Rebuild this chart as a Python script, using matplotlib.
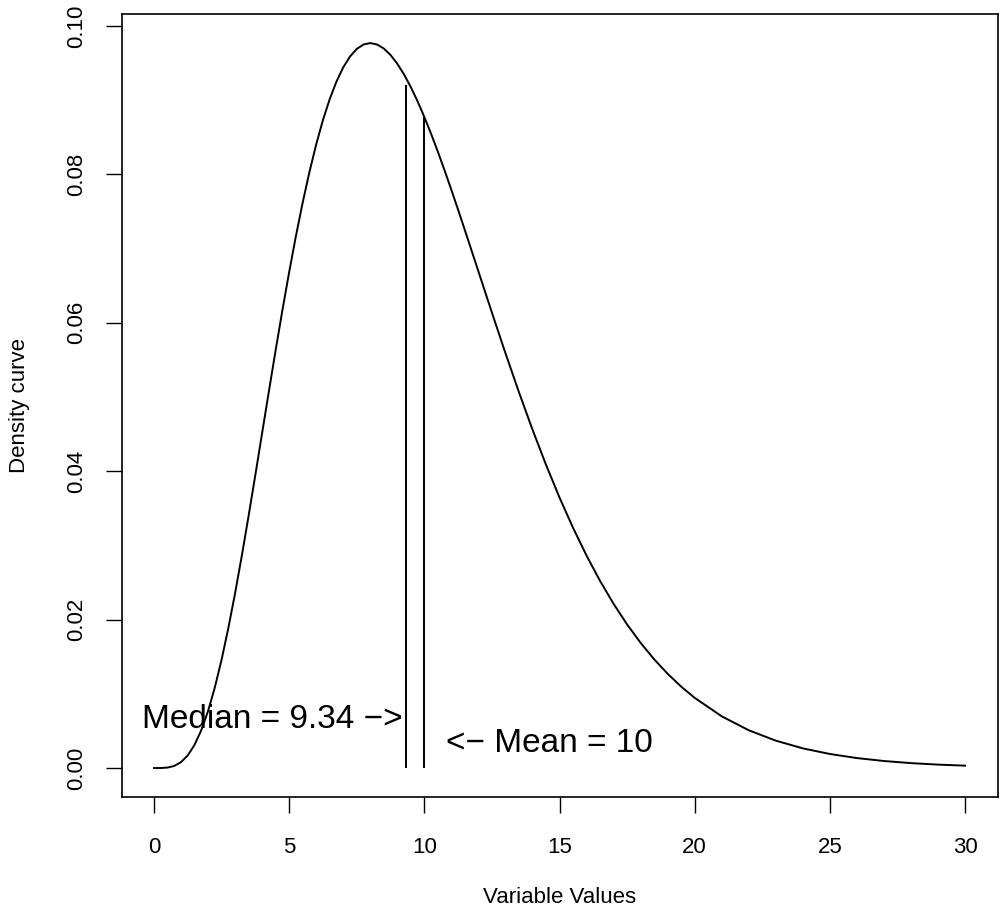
import matplotlib
matplotlib.use("Agg")
import matplotlib.pyplot as plt

plt.rcParams['font.family'] = ['Liberation Sans', 'DejaVu Sans']

# Density curve values
x_vals = [0, 0.25, 0.5, 0.75, 1, 1.25, 1.5, 1.75, 2, 2.25, 2.5, 2.75, 3, 3.25,
          3.5, 3.75, 4, 4.25, 4.5, 4.75, 5, 5.25, 5.5, 5.75, 6, 6.25, 6.5, 6.75,
          7, 7.25, 7.5, 7.75, 8, 8.25, 8.5, 8.75, 9, 9.25, 9.5, 9.75, 10, 10.25,
          10.5, 10.75, 11, 11.25, 11.5, 12, 12.5, 13, 13.5, 14, 14.5, 15, 15.5,
          16, 16.5, 17, 17.5, 18, 18.5, 19, 19.5, 20, 21, 22, 23, 24, 25, 26,
          27, 28, 29, 30]
density = [0.0, 0.0000045, 0.0000634, 0.000283, 0.000790, 0.001702, 0.003114,
           0.005091, 0.007664, 0.010834, 0.014572, 0.018828, 0.023533, 0.028606,
           0.033954, 0.039486, 0.045112, 0.050734, 0.056276, 0.061654, 0.066801,
           0.071656, 0.076169, 0.080298, 0.084016, 0.087296, 0.090122, 0.092491,
           0.094406, 0.095867, 0.096891, 0.097487, 0.097683, 0.097495, 0.096952,
           0.096081, 0.094904, 0.093453, 0.091756, 0.089841, 0.087733, 0.085462,
           0.083052, 0.080528, 0.077910, 0.075223, 0.072483, 0.066927, 0.061369,
           0.055910, 0.050639, 0.045612, 0.040876, 0.036457, 0.032373, 0.028626,
           0.025214, 0.022128, 0.019351, 0.016869, 0.014659, 0.012702, 0.010975,
           0.009458, 0.006973, 0.005094, 0.003691, 0.002654, 0.001896, 0.001345,
           0.000949, 0.000666, 0.000464, 0.000323]

median_x = 9.34
median_top = 0.092
mean_x = 10
mean_top = 0.0877

x_ticks = [0, 5, 10, 15, 20, 25, 30]
y_ticks = [0.00, 0.02, 0.04, 0.06, 0.08, 0.10]
y_tick_labels = ["0.00", "0.02", "0.04", "0.06", "0.08", "0.10"]

W, H = 1001, 913
fig = plt.figure(figsize=(W / 100, H / 100), dpi=100)
ax = fig.add_axes([121.5 / W, (H - 797) / H, (997.5 - 121.5) / W, (797 - 14) / H])

lw = 1.4
ax.plot(x_vals, density, color='black', lw=lw, solid_joinstyle='round')
ax.vlines([median_x], 0, [median_top], color='black', lw=lw)
ax.vlines([mean_x], 0, [mean_top], color='black', lw=lw)

ax.text(9.2, 0.0065, "Median = 9.34 −>", ha='right', va='center', fontsize=24)
ax.text(10.79, 0.0033, "<− Mean = 10", ha='left', va='center', fontsize=24)

ax.set_xlim(-1.2, 31.2)
ax.set_ylim(-0.0039, 0.1016)
ax.set_xticks(x_ticks)
ax.set_xticklabels([str(t) for t in x_ticks])
ax.set_yticks(y_ticks)
ax.set_yticklabels(y_tick_labels, rotation=90, va='center')

ax.tick_params(axis='both', direction='out', length=11.5, width=1.0,
               labelsize=16, color='black')
ax.tick_params(axis='x', pad=17)
ax.tick_params(axis='y', pad=13)
for s in ax.spines.values():
    s.set_linewidth(1.2)

ax.set_xlabel("Variable Values", fontsize=16, labelpad=21)
ax.set_ylabel("Density curve", fontsize=16, labelpad=26)

fig.savefig("out.png", dpi=100)
